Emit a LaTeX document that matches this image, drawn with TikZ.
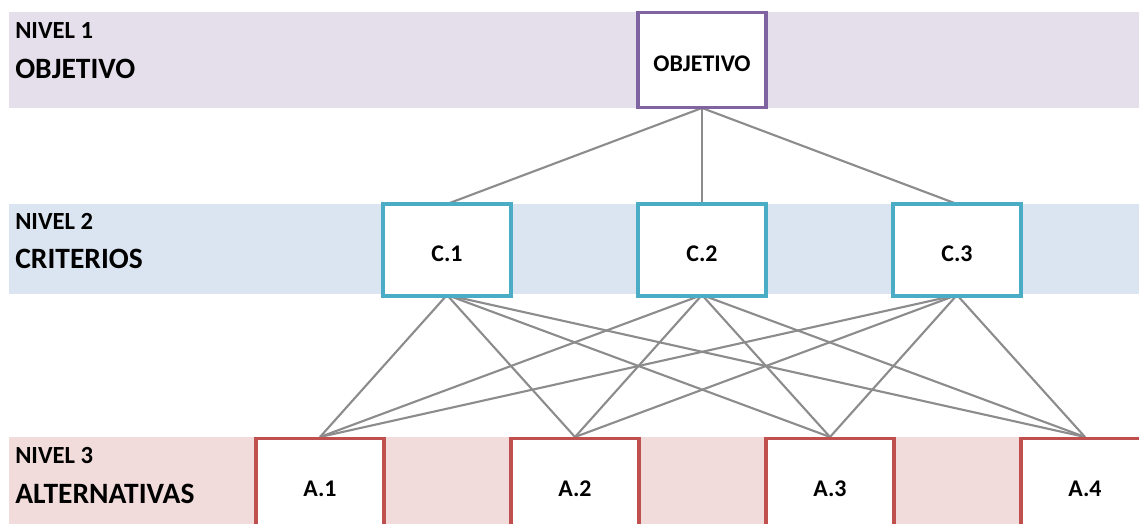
\documentclass[tikz,border=0pt]{standalone}
\usepackage{fontspec}
\setmainfont{Carlito}
\usepackage{tikz}
\usetikzlibrary{positioning}
\definecolor{bandone}{HTML}{E5DFEC}
\definecolor{bandtwo}{HTML}{DBE5F1}
\definecolor{bandthree}{HTML}{F2DCDB}
\definecolor{lineone}{HTML}{8064A2}
\definecolor{linetwo}{HTML}{4BACC6}
\definecolor{linethree}{HTML}{C0504D}
\definecolor{linkgray}{HTML}{8C8C8C}
\tikzset{
	levelbox/.style={draw, fill=white, line width=2.2pt, minimum width=3.2cm, minimum height=2.3cm, inner sep=0pt, text height=17pt, text depth=0pt, font=\bfseries\fontsize{17}{20}\selectfont},
	nivel/.style={anchor=west, inner sep=0pt, font=\bfseries\fontsize{17.5}{21}\selectfont},
	title/.style={anchor=west, inner sep=0pt, font=\bfseries\fontsize{21}{25}\selectfont},
	link/.style={draw=linkgray, line width=1.5pt}
}
\begin{document}
\begin{tikzpicture}[x=0.025cm, y=-0.025cm]
		\useasboundingbox (0,0) rectangle (1139,524);
		\clip (0,0) rectangle (1139,524);
		% bands
		\fill[bandone] (9,12) rectangle (1139,108);
		\fill[bandtwo] (9,204) rectangle (1139,294);
		\fill[bandthree] (9,437) rectangle (1139,524);
		\node[nivel] (n1) at (15,31) {NIVEL 1};
		\node[title] (t1) at (15,69) {OBJETIVO};
		\node[nivel] (n2) at (15,221) {NIVEL 2};
		\node[title] (t2) at (15,259) {CRITERIOS};
		\node[nivel] (n3) at (15,456) {NIVEL 3};
		\node[title] (t3) at (15,494) {ALTERNATIVAS};
		% links
		\coordinate (otop) at (702,108);
		\foreach \c/\x in {1/447, 2/702, 3/957} {
			\coordinate (ct\c) at (\x,204);
			\coordinate (cb\c) at (\x,295);
		}
		\foreach \a/\x in {1/320, 2/575, 3/830, 4/1085}
			\coordinate (at\a) at (\x,437);
		\foreach \c in {1,2,3} {
			\draw[link] (otop) -- (ct\c);
			\foreach \a in {1,2,3,4}
				\draw[link] (cb\c) -- (at\a);
		}
		% boxes
		\node[levelbox, draw=lineone, minimum height=2.38cm] (obj) at (702,60) {OBJETIVO};
		\foreach \c/\x in {1/447, 2/702, 3/957}
			\node[levelbox, draw=linetwo] (c\c) at (\x,250) {C.\c};
		\foreach \a/\x in {1/320, 2/575, 3/830, 4/1085}
			\node[levelbox, draw=linethree, anchor=north] (a\a) at (\x,437) {};
		\foreach \a/\x in {1/320, 2/575, 3/830, 4/1085}
			\node[font=\bfseries\fontsize{17}{20}\selectfont] (al\a) at (\x,489) {A.\a};
	\end{tikzpicture}
\end{document}
